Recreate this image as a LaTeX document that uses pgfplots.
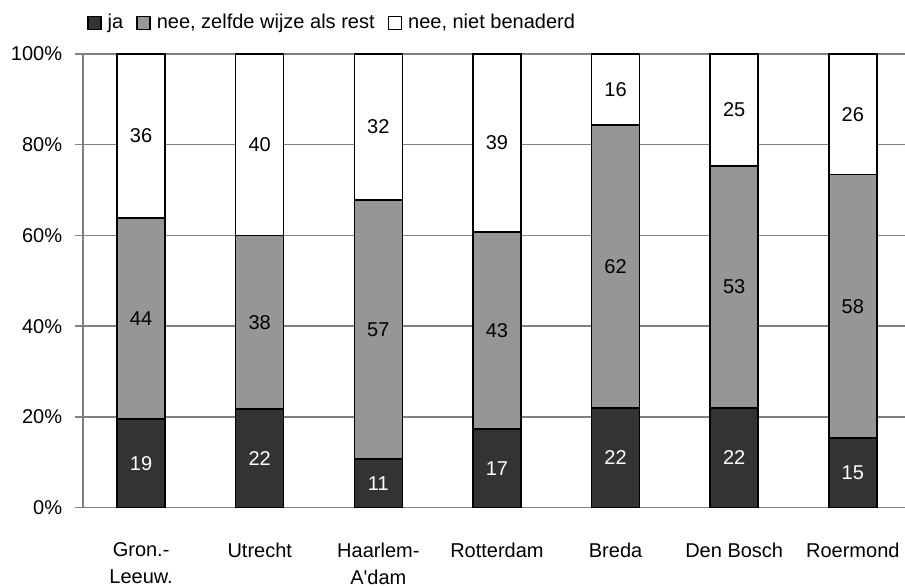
\documentclass[border=0pt]{standalone}
\usepackage{pgfplots}
\pgfplotsset{compat=1.18}
\usepackage{pgfplotstable}
\usepackage{fontspec}
\setmainfont{Liberation Sans}
\definecolor{dk}{HTML}{333333}
\definecolor{md}{HTML}{969696}
\definecolor{gl}{HTML}{808080}

\pgfplotstableread{
x y lab
0 19.5 19
1 21.7 22
2 10.7 11
3 17.3 17
4 22.0 22
5 22.0 22
6 15.4 15
}\ja
\pgfplotstableread{
x y lab
0 44.4 44
1 38.3 38
2 57.1 57
3 43.5 43
4 62.4 62
5 53.3 53
6 58.0 58
}\zelfde
\pgfplotstableread{
x y lab
0 36.1 36
1 40.0 40
2 32.2 32
3 39.2 39
4 15.6 16
5 24.7 25
6 26.6 26
}\niet

\pgfplotsset{sq legend/.style={legend image code/.code={\draw[##1,line width=1.5bp] (0bp,-6.5bp) rectangle (13bp,6.5bp);}}}

\begin{document}
\fontsize{20bp}{27bp}\selectfont
\begin{tikzpicture}
\begin{axis}[
  name=ax,
  scale only axis,
  width=822bp, height=453.7bp,
  ybar stacked,
  bar width=48bp,
  xmin=-0.49, xmax=6.44,
  ymin=0, ymax=100,
  ytick={0,20,...,100},
  yticklabel={\pgfmathprintnumber{\tick}\%},
  xtick={0,...,6},
  xticklabels={{Gron.-\\Leeuw.},Utrecht,{Haarlem-\\A\textquotesingle dam},Rotterdam,Breda,Den Bosch,Roermond},
  xticklabel style={align=center, yshift=-20bp},
  yticklabel style={xshift=-6bp},
  x tick style={draw=none},
  y tick style={gl, line width=1.5bp},
  tick align=outside, major tick length=8bp,
  ymajorgrids, grid style={gl, line width=1.5bp},
  axis x line*=bottom, axis y line*=left,
  axis line style={gl, line width=1.5bp},
  /pgf/number format/assume math mode=true,
  point meta=explicit symbolic,
  nodes near coords={\pgfplotspointmeta},
  visualization depends on={rawy \as \segh},
  every node near coord/.append style={anchor=center},
  legend columns=-1,
  legend style={at={(0,1)}, anchor=west, xshift=4bp, yshift=31bp, draw=none, fill=none, inner sep=0pt,
    nodes={inner sep=0bp},
    /tikz/every odd column/.append style={column sep=6bp},
    /tikz/every even column/.append style={column sep=13bp}},
]
\addplot[fill=dk, draw=black, line width=1.5bp, sq legend, every node near coord/.append style={text=white}] table[x=x,y=y,meta=lab]{\ja};
\addlegendentry{ja}
\addplot[fill=md, draw=black, line width=1.5bp, sq legend] table[x=x,y=y,meta=lab]{\zelfde};
\addlegendentry{nee, zelfde wijze als rest}
\addplot[fill=white, draw=black, line width=1.5bp, sq legend] table[x=x,y=y,meta=lab]{\niet};
\addlegendentry{nee, niet benaderd}
\end{axis}
\pgfresetboundingbox
\useasboundingbox ([shift={(-83bp,-79.3bp)}]ax.south west) rectangle ([shift={(0bp,54bp)}]ax.north east);
\end{tikzpicture}
\end{document}
